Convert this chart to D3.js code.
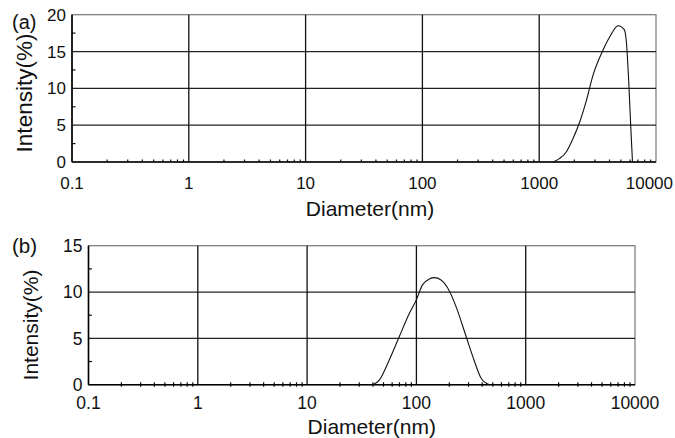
<!DOCTYPE html>
<html><head><meta charset="utf-8">
<script src="https://cdn.jsdelivr.net/npm/d3@7"></script>
<style>body{margin:0;background:#fff}svg{display:block}text{font-family:"Liberation Sans",Arial,sans-serif;fill:#111}</style>
</head><body>
<svg id="c" width="675" height="438"></svg>
<script>
const xTickValues = [0.1, 1, 10, 100, 1000, 10000];
const xTickLabels = ["0.1", "1", "10", "100", "1000", "10000"];
const yTicksA = [0, 5, 10, 15, 20];
const yTicksB = [0, 5, 10, 15];
const diamA = [1315, 1500, 1710, 1950, 2230, 2540, 2890, 3520, 4020, 4740, 5340, 5590, 5850, 6080, 6290];
const intA  = [0, 0.5, 1.4, 3.2, 5.5, 8.4, 11.8, 15.2, 17.0, 18.5, 18.0, 16.1, 10.7, 4.8, 0];
const diamB = [39.8, 45.8, 56.6, 69.8, 86.3, 99.4, 114, 131, 146, 168, 194, 231, 285, 340, 391, 466];
const intB  = [0, 0.5, 2.7, 5.2, 7.7, 9.1, 10.8, 11.4, 11.55, 11.3, 10.4, 8.4, 5.2, 2.5, 0.7, 0];

const svg = d3.select("#c");
const W = 675;

function panel(o) {
  const x = d3.scaleLog().domain([0.1, 10000]).range([o.x0, o.x1]);
  const y = d3.scaleLinear().domain([0, o.ymax]).range([o.y0, o.y1]);
  const g = svg.append("g");
  g.append("rect").attr("x", o.x0).attr("y", o.y1).attr("width", o.x1 - o.x0).attr("height", o.y0 - o.y1)
    .attr("fill", "none").attr("stroke", "#777").attr("stroke-width", 1.2);
  g.selectAll(".hg").data(o.yticks.filter(v => v > 0 && v < o.ymax)).enter().append("line")
    .attr("x1", o.x0).attr("x2", o.x1).attr("y1", d => y(d)).attr("y2", d => y(d))
    .attr("stroke", "#222").attr("stroke-width", 1.3);
  g.selectAll(".vg").data(xTickValues.slice(1, -1)).enter().append("line")
    .attr("x1", d => x(d)).attr("x2", d => x(d)).attr("y1", o.y1).attr("y2", o.y0)
    .attr("stroke", "#111").attr("stroke-width", 1.3);
  const minors = [];
  for (let e = -1; e < 4; e++) for (let k = 2; k <= 9; k++) minors.push(k * Math.pow(10, e));
  g.selectAll(".mx").data(minors).enter().append("line")
    .attr("x1", d => x(d)).attr("x2", d => x(d)).attr("y1", o.y0 - 2.5).attr("y2", o.y0 + o.tickOut)
    .attr("stroke", "#111").attr("stroke-width", 1.2);
  const ym = [];
  for (let v = 2.5; v < o.ymax; v += 5) ym.push(v);
  g.selectAll(".my").data(ym).enter().append("line")
    .attr("x1", o.x0).attr("x2", o.x0 + 3.5).attr("y1", d => y(d)).attr("y2", d => y(d))
    .attr("stroke", "#111").attr("stroke-width", 1.2);
  g.append("line").attr("x1", o.x0).attr("x2", o.x0).attr("y1", o.y1).attr("y2", o.y0).attr("stroke", "#000").attr("stroke-width", 1.6);
  g.append("line").attr("x1", o.x0).attr("x2", o.x1).attr("y1", o.y0).attr("y2", o.y0).attr("stroke", "#000").attr("stroke-width", 1.6);
  const pts = o.dx.map((d, i) => [d, o.dy[i]]);
  g.append("path").datum(pts)
    .attr("d", d3.line().x(d => x(d[0])).y(d => y(d[1])).curve(d3.curveMonotoneX))
    .attr("fill", "none").attr("stroke", "#111").attr("stroke-width", 1.1);
  // x tick labels (kept inside the canvas)
  g.selectAll(".xl").data(xTickValues).enter().append("text")
    .attr("y", o.xlabY).attr("text-anchor", "middle")
    .attr("font-size", o.tickFs).text((d, i) => xTickLabels[i])
    .each(function(d) {
      const t = d3.select(this);
      t.attr("x", x(d));
      const bb = this.getBBox();
      if (bb.x + bb.width > W - 2) t.attr("x", x(d) - (bb.x + bb.width - (W - 2)));
    });
  g.selectAll(".yl").data(o.yticks).enter().append("text")
    .attr("x", o.x0 - 6).attr("y", d => y(d)).attr("dy", "0.36em").attr("text-anchor", "end")
    .attr("font-size", o.tickFs).text(d => d);
  g.append("text").attr("x", (o.x0 + o.x1) / 2 + o.titleDx).attr("y", o.xtitleY).attr("text-anchor", "middle")
    .attr("font-size", o.titleFs).text("Diameter(nm)");
  g.append("text").attr("transform", `translate(${o.ytitleX},${o.ytitleCY}) rotate(-90)`)
    .attr("text-anchor", "middle").attr("font-size", o.ytitleFs).text("Intensity(%)");
  g.append("text").attr("x", 12).attr("y", o.labY).attr("font-size", o.labFs).text(o.label);
}

panel({x0: 72, x1: 656, y0: 162, y1: 14.7, ymax: 20, yticks: yTicksA, dx: diamA, dy: intA,
  tickOut: 0, tickFs: 17, xlabY: 188.5, xtitleY: 216, titleDx: 6, titleFs: 21,
  ytitleX: 32, ytitleCY: 93, ytitleFs: 22.5, labY: 29, labFs: 20, label: "(a)"});
panel({x0: 88.5, x1: 635, y0: 384.7, y1: 245.7, ymax: 15, yticks: yTicksB, dx: diamB, dy: intB,
  tickOut: 2, tickFs: 17.5, xlabY: 409, xtitleY: 434, titleDx: 10, titleFs: 21,
  ytitleX: 38, ytitleCY: 325, ytitleFs: 21, labY: 252.5, labFs: 20.5, label: "(b)"});
</script>
</body></html>
